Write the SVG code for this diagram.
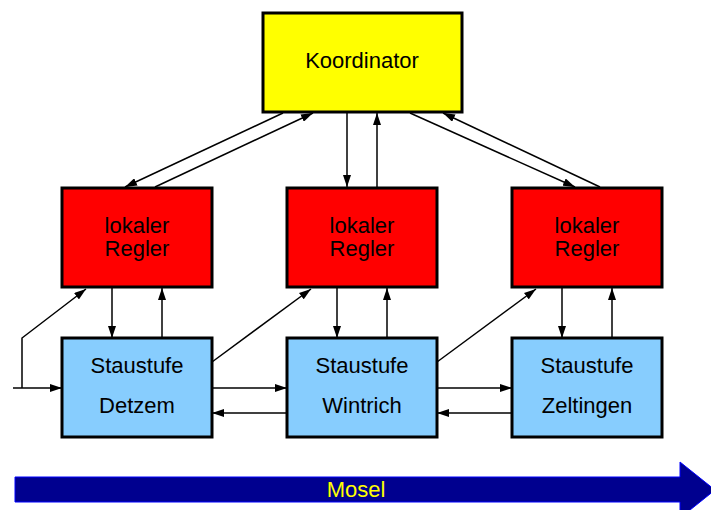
<svg xmlns="http://www.w3.org/2000/svg" width="711" height="510" viewBox="0 0 711 510">
  <defs>
    <marker id="ah" viewBox="0 0 12 8" refX="12" refY="4" markerWidth="12" markerHeight="8" markerUnits="userSpaceOnUse" orient="auto">
      <path d="M0,0 L12,4 L0,8 Z" fill="#000"/>
    </marker>
    <style>
      .box { stroke: #000; stroke-width: 3; }
      .koord { fill: #ffff00; }
      .regler { fill: #ff0000; }
      .stufe { fill: #87cdfe; }
      .lbl { font-family: "Liberation Sans", Arial, sans-serif; font-size: 22px; fill: #000; text-anchor: middle; }
      .con { stroke: #000; stroke-width: 1.5; fill: none; }
      .arr { marker-end: url(#ah); }
    </style>
  </defs>
  <rect width="711" height="510" fill="#fff"/>

  <g id="connectors">
    <!-- Koordinator <-> lokale Regler -->
    <line class="con arr" x1="283" y1="113" x2="125" y2="187"/>
    <line class="con arr" x1="155" y1="187" x2="313" y2="113"/>
    <line class="con arr" x1="347" y1="113" x2="347" y2="187"/>
    <line class="con arr" x1="377" y1="187" x2="377" y2="113"/>
    <line class="con arr" x1="410" y1="113" x2="575" y2="187"/>
    <line class="con arr" x1="600" y1="187" x2="443" y2="113"/>
    <!-- Regler <-> Staustufen -->
    <line class="con arr" x1="112" y1="288" x2="112" y2="338"/>
    <line class="con arr" x1="162" y1="338" x2="162" y2="288"/>
    <line class="con arr" x1="337" y1="288" x2="337" y2="338"/>
    <line class="con arr" x1="387" y1="338" x2="387" y2="288"/>
    <line class="con arr" x1="562" y1="288" x2="562" y2="338"/>
    <line class="con arr" x1="612" y1="338" x2="612" y2="288"/>
    <!-- Zufluss -->
    <line class="con arr" x1="13" y1="388" x2="62" y2="388"/>
    <polyline class="con arr" points="22,388 22,338 86,289"/>
    <!-- Staustufe -> nachfolgender Regler -->
    <line class="con arr" x1="212" y1="362" x2="311" y2="289"/>
    <line class="con arr" x1="437" y1="362" x2="536" y2="289"/>
    <!-- Staustufen untereinander -->
    <line class="con arr" x1="212" y1="388" x2="287" y2="388"/>
    <line class="con arr" x1="287" y1="413" x2="212" y2="413"/>
    <line class="con arr" x1="437" y1="388" x2="512" y2="388"/>
    <line class="con arr" x1="512" y1="413" x2="437" y2="413"/>
  </g>

  <g id="koordinator">
    <rect class="box koord" x="263" y="13" width="199" height="99"/>
    <text class="lbl" x="362" y="68">Koordinator</text>
  </g>

  <g id="regler1">
    <rect class="box regler" x="62" y="188" width="150" height="99"/>
    <text class="lbl" x="137" y="233">lokaler</text>
    <text class="lbl" x="137" y="256">Regler</text>
  </g>
  <g id="regler2">
    <rect class="box regler" x="287" y="188" width="150" height="99"/>
    <text class="lbl" x="362" y="233">lokaler</text>
    <text class="lbl" x="362" y="256">Regler</text>
  </g>
  <g id="regler3">
    <rect class="box regler" x="512" y="188" width="150" height="99"/>
    <text class="lbl" x="587" y="233">lokaler</text>
    <text class="lbl" x="587" y="256">Regler</text>
  </g>

  <g id="detzem">
    <rect class="box stufe" x="62" y="338" width="150" height="99"/>
    <text class="lbl" x="137" y="373">Staustufe</text>
    <text class="lbl" x="137" y="413">Detzem</text>
  </g>
  <g id="wintrich">
    <rect class="box stufe" x="287" y="338" width="150" height="99"/>
    <text class="lbl" x="362" y="373">Staustufe</text>
    <text class="lbl" x="362" y="413">Wintrich</text>
  </g>
  <g id="zeltingen">
    <rect class="box stufe" x="512" y="338" width="150" height="99"/>
    <text class="lbl" x="587" y="373">Staustufe</text>
    <text class="lbl" x="587" y="413">Zeltingen</text>
  </g>

  <g id="mosel">
    <path d="M15,477 L680,477 L680,462 L715,490 L680,518 L680,502 L15,502 Z" fill="#00008f" stroke="#0000ff" stroke-width="1"/>
    <text x="356" y="497" font-family="Liberation Sans, Arial, sans-serif" font-size="22" fill="#ffff00" text-anchor="middle">Mosel</text>
  </g>
</svg>
